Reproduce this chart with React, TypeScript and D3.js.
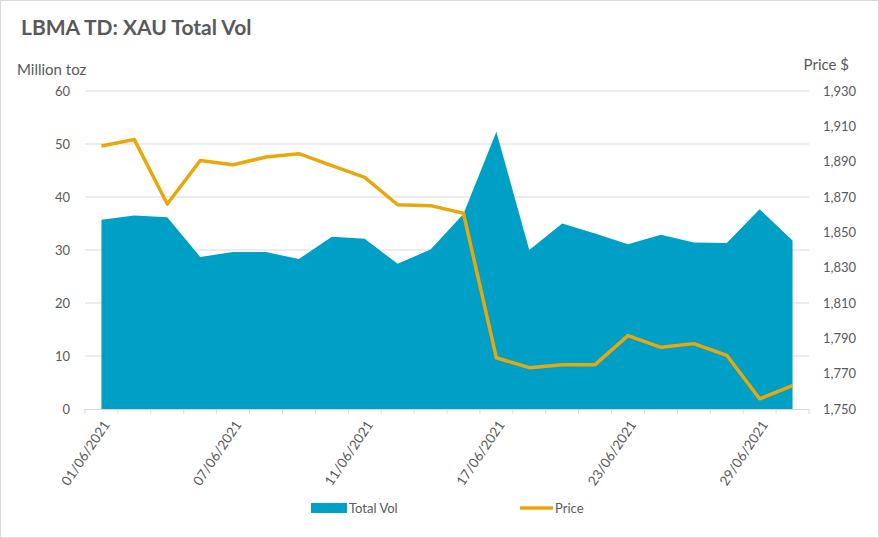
import { useEffect, useRef } from "react";
import * as d3 from "d3";

const dates = [
  "01/06/2021", "02/06/2021", "03/06/2021", "04/06/2021", "07/06/2021",
  "08/06/2021", "09/06/2021", "10/06/2021", "11/06/2021", "14/06/2021",
  "15/06/2021", "16/06/2021", "17/06/2021", "18/06/2021", "21/06/2021",
  "22/06/2021", "23/06/2021", "24/06/2021", "25/06/2021", "28/06/2021",
  "29/06/2021", "30/06/2021",
];

const totalVol = [
  35.7, 36.5, 36.2, 28.7, 29.6, 29.6, 28.3, 32.5, 32.1, 27.4, 30.1,
  36.8, 52.3, 30.0, 35.0, 33.1, 31.1, 32.9, 31.4, 31.3, 37.7, 31.8,
];

const price = [
  1898.9, 1902.5, 1866.0, 1890.6, 1888.3, 1892.6, 1894.5, 1887.7, 1881.1,
  1865.6, 1865.1, 1860.8, 1779.0, 1773.4, 1775.1, 1775.1, 1791.5, 1784.9,
  1787.0, 1780.4, 1755.8, 1763.2,
];

const volTicks = [0, 10, 20, 30, 40, 50, 60];
const priceTicks = [1750, 1770, 1790, 1810, 1830, 1850, 1870, 1890, 1910, 1930];
const labelEvery = 4;

const W = 879;
const H = 538;
const FONT = "Lato, 'Open Sans', sans-serif";
const TEXT = "#595959";
const BLUE = "#009FC6";
const GOLD = "#E8A80C";

export default function App() {
  const svgRef = useRef<SVGSVGElement>(null);

  useEffect(() => {
    if (!svgRef.current) return;
    const svg = d3.select(svgRef.current);
    svg.selectAll("*").remove();

    const left = 85;
    const right = 809;
    const top = 91;
    const bottom = 409;

    const x = d3.scaleBand().domain(dates).range([left, right]);
    const cx = (d: string) => (x(d) ?? 0) + x.bandwidth() / 2;
    const yVol = d3.scaleLinear().domain([0, 60]).range([bottom, top]);
    const yPrice = d3.scaleLinear().domain([1750, 1930]).range([bottom, top]);

    // frame
    svg.append("rect")
      .attr("x", 0.5).attr("y", 0.5)
      .attr("width", W - 1).attr("height", H - 1)
      .attr("fill", "#fff").attr("stroke", "#d9d9d9");

    // title
    svg.append("text")
      .attr("x", 21).attr("y", 35)
      .attr("fill", TEXT).attr("font-size", 21).attr("font-weight", 700)
      .attr("font-family", FONT)
      .text("LBMA TD: XAU Total Vol");

    svg.append("text")
      .attr("x", 17).attr("y", 75)
      .attr("fill", TEXT).attr("font-size", 15).attr("font-family", FONT)
      .text("Million toz");

    svg.append("text")
      .attr("x", 849).attr("y", 70).attr("text-anchor", "end")
      .attr("fill", TEXT).attr("font-size", 15).attr("font-family", FONT)
      .text("Price $");

    // gridlines
    svg.append("g")
      .selectAll("line")
      .data(volTicks.filter((t) => t > 0))
      .join("line")
      .attr("x1", left).attr("x2", right)
      .attr("y1", (d) => yVol(d)).attr("y2", (d) => yVol(d))
      .attr("stroke", "#d9d9d9");

    // left ticks
    svg.append("g")
      .selectAll("text")
      .data(volTicks)
      .join("text")
      .attr("x", 70).attr("y", (d) => yVol(d))
      .attr("dy", "0.35em").attr("text-anchor", "end")
      .attr("fill", TEXT).attr("font-size", 13).attr("font-family", FONT)
      .text((d) => d);

    // right ticks
    svg.append("g")
      .selectAll("text")
      .data(priceTicks)
      .join("text")
      .attr("x", 823).attr("y", (d) => yPrice(d))
      .attr("dy", "0.35em")
      .attr("fill", TEXT).attr("font-size", 13).attr("font-family", FONT)
      .text((d) => d3.format(",")(d));

    // area
    const area = d3.area<number>()
      .x((_, i) => cx(dates[i]))
      .y0(yVol(0))
      .y1((d) => yVol(d));
    svg.append("path")
      .datum(totalVol)
      .attr("fill", BLUE)
      .attr("d", area);

    // x axis line + ticks
    svg.append("line")
      .attr("x1", left).attr("x2", right)
      .attr("y1", bottom + 0.5).attr("y2", bottom + 0.5)
      .attr("stroke", "#d9d9d9");
    const bounds = dates.map((d) => x(d) ?? 0).concat([right]);
    svg.append("g")
      .selectAll("line")
      .data(bounds)
      .join("line")
      .attr("x1", (d) => d).attr("x2", (d) => d)
      .attr("y1", bottom).attr("y2", bottom + 5)
      .attr("stroke", "#d9d9d9");

    // price line
    const line = d3.line<number>()
      .x((_, i) => cx(dates[i]))
      .y((d) => yPrice(d));
    svg.append("path")
      .datum(price)
      .attr("fill", "none")
      .attr("stroke", GOLD)
      .attr("stroke-width", 3.5)
      .attr("stroke-linejoin", "round")
      .attr("d", line);

    // x labels
    svg.append("g")
      .selectAll("text")
      .data(dates.filter((_, i) => i % labelEvery === 0))
      .join("text")
      .attr("transform", (d) => `translate(${cx(d) + 5},${bottom + 13}) rotate(-56)`)
      .attr("text-anchor", "end")
      .attr("dy", "0.35em")
      .attr("fill", TEXT).attr("font-size", 13.5).attr("font-family", FONT)
      .text((d) => d);

    // legend
    const lg = svg.append("g").attr("font-family", FONT).attr("font-size", 13).attr("fill", TEXT);
    lg.append("rect").attr("x", 311).attr("y", 503).attr("width", 36).attr("height", 10).attr("fill", BLUE);
    lg.append("text").attr("x", 349).attr("y", 508).attr("dy", "0.35em").text("Total Vol");
    lg.append("line").attr("x1", 520).attr("x2", 553).attr("y1", 508).attr("y2", 508)
      .attr("stroke", GOLD).attr("stroke-width", 3.5);
    lg.append("text").attr("x", 555).attr("y", 508).attr("dy", "0.35em").text("Price");
  }, []);

  return (
    <svg
      ref={svgRef}
      width={W}
      height={H}
      style={{ position: "absolute", left: 0, top: 0, display: "block" }}
    />
  );
}
